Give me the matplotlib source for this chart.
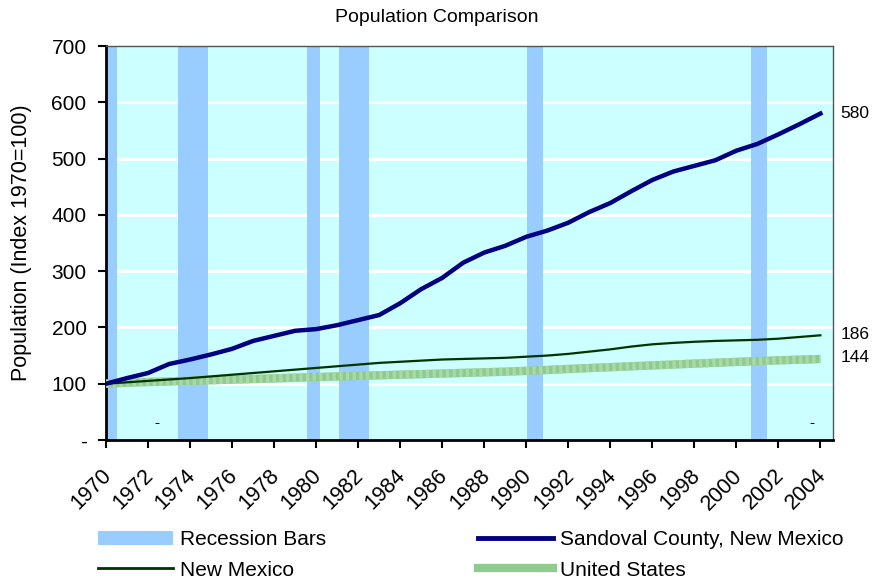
import matplotlib.pyplot as plt
import matplotlib.transforms as mtransforms
import numpy as np
from matplotlib.patches import Patch
from matplotlib.lines import Line2D

plt.rcParams['font.family'] = ['Liberation Sans', 'DejaVu Sans']

years = list(range(1970, 2005))
sandoval = [100, 110, 119, 135, 143, 152, 162, 176, 185, 194,
            197, 204, 213, 222, 243, 268, 288, 315, 333, 345,
            361, 372, 386, 405, 421, 442, 462, 477, 487, 497,
            514, 526, 543, 561, 580]
new_mexico = [100, 102.5, 105, 107.5, 110, 113, 116, 119, 122, 125,
              128, 131, 134, 137, 139, 141, 143, 144, 145, 146,
              148, 150, 153, 157, 161, 166, 170, 172.5, 174.5, 176,
              177, 178, 180, 183, 186]
united_states = [100, 101.7, 103.0, 104.0, 105.2, 106.2, 107.2, 108.3, 109.5, 110.7,
                 111.8, 112.9, 114.0, 115.0, 116.0, 117.0, 118.1, 119.2, 120.3, 121.4,
                 122.8, 124.4, 126.2, 127.8, 129.4, 131.0, 132.5, 134.1, 135.7, 137.2,
                 138.8, 140.2, 141.5, 142.7, 144.0]

# recession bars (start, end) in years
rec_start = [1970.0, 1973.42, 1979.56, 1981.08, 1990.06, 2000.71]
rec_end = [1970.52, 1974.85, 1980.18, 1982.51, 1990.82, 2001.47]

end_labels = ['580', '186', '144']
end_values = [580, 186, 144]

fig = plt.figure(figsize=(8.74, 5.81), dpi=100)
ax = fig.add_axes([106/874, 1 - 440/581, (833-106)/874, (440-46)/581])
ax.set_facecolor('#ccffff')

for s, e in zip(rec_start, rec_end):
    ax.axvspan(s, e, color='#99ccff', lw=0, zorder=1)

for v in range(100, 700, 100):
    ax.axhline(v, color='white', lw=2, zorder=0.5)

ax.plot(years, united_states, color='#8fca8f', lw=6, solid_capstyle='butt', zorder=3)
ax.plot(years, united_states, color='#a9d8a9', lw=6, ls=(0, (0.4, 0.4)), zorder=3.1)
ax.plot(years, new_mexico, color='#003300', lw=1.6, zorder=4)
ax.plot(years, sandoval, color='#000080', lw=3.2, zorder=5)

ax.set_xlim(1970, 2004.6)
ax.set_ylim(0, 700)
ax.set_xticks(range(1970, 2005, 2))
ax.set_xticklabels([str(y) for y in range(1970, 2005, 2)], rotation=45,
                   ha='right', va='top', rotation_mode='anchor', fontsize=15.5)
ax.set_yticks(range(0, 800, 100))
ax.set_yticklabels(['-'] + [str(v) for v in range(100, 800, 100)], fontsize=15)
ax.tick_params(axis='both', direction='out', length=6, width=1.5, color='black')
ax.tick_params(axis='x', pad=12)
ax.tick_params(axis='y', pad=8)

# shift the rotated year labels a little to the left
shift = mtransforms.ScaledTranslation(-5/100, 0, fig.dpi_scale_trans)
for lbl in ax.get_xticklabels():
    lbl.set_transform(lbl.get_transform() + shift)

for side in ['left', 'bottom']:
    ax.spines[side].set_linewidth(2)
    ax.spines[side].set_color('black')
for side in ['top', 'right']:
    ax.spines[side].set_linewidth(1)
    ax.spines[side].set_color('#555555')

ax.set_ylabel('Population (Index 1970=100)', fontsize=15.5, labelpad=14)
fig.text(0.5, 1 - 18/581, 'Population Comparison', ha='center', va='center', fontsize=14)

ax.text(1972.4, 30, '-', ha='center', va='center', fontsize=11)
ax.text(2003.6, 30, '-', ha='center', va='center', fontsize=11)

label_y = [580, 188, 146]
for lab, yv in zip(end_labels, label_y):
    ax.text(1.01, yv / 700, lab, transform=ax.transAxes, ha='left', va='center', fontsize=12.5)

left_handles = [Patch(facecolor='#99ccff', edgecolor='none'),
                Line2D([], [], color='#003300', lw=2)]
right_handles = [Line2D([], [], color='#000080', lw=3.5),
                 Line2D([], [], color='#8fca8f', lw=6)]
leg_kw = dict(loc='center left', frameon=False, fontsize=15, handlelength=3.6,
              handletextpad=0.35, labelspacing=0.55, borderaxespad=0, borderpad=0)
leg1 = fig.legend(left_handles, ['Recession Bars', 'New Mexico'],
                  bbox_to_anchor=(98/874, 1 - 555/581), **leg_kw)
leg2 = fig.legend(right_handles, ['Sandoval County, New Mexico', 'United States'],
                  bbox_to_anchor=(478/874, 1 - 555/581), **leg_kw)

fig.savefig('out.png', dpi=100)
